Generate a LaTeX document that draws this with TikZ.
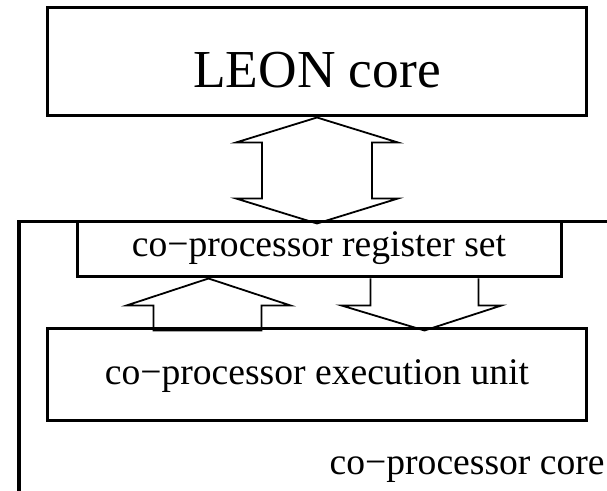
\documentclass[tikz,border=0pt]{standalone}
\usepackage{fontspec}
\setmainfont{Liberation Serif}
\usetikzlibrary{calc}

\begin{document}
\begin{tikzpicture}[
    x=0.5pt, y=-0.5pt,
    box/.style={rectangle, draw, line width=1.5pt, inner sep=0pt, align=center},
    bigtext/.style={font=\fontsize{26.7}{32}\selectfont},
    smalltext/.style={font=\fontsize{18.8}{22}\selectfont},
    blockarrow/.style={draw, line width=0.9pt, line join=miter},
    frame/.style={draw, line width=1.5pt}
]
\useasboundingbox (0,0) rectangle (607,491);

% LEON core
\node[box, bigtext, minimum width=269pt, minimum height=54pt, text height=26pt, text depth=0pt] (leon) at (317,62) {LEON core};

% Co-processor blocks
\node[box, smalltext, minimum width=242pt, minimum height=27.5pt, text height=11pt, text depth=3.5pt] (regset) at (319,249.5) {co−processor register set};
\node[box, smalltext, minimum width=269pt, minimum height=46pt, text height=13pt, text depth=3pt] (unit) at (317,375) {co−processor execution unit};

% Co-processor core frame
\coordinate (coretop) at (607,222);
\coordinate (corebot) at (19,491);
\draw[frame] (coretop) -| (corebot);
\node[smalltext, anchor=base east, inner sep=0pt] (corelabel) at (605,475) {co−processor core};

% LEON <-> register set
\draw[blockarrow] (leon.south) -- ++(-81,25) -- ++(26,0) -- ++(0,56) -- ++(-26,0) -- ++(81,25)
    -- ++(81,-25) -- ++(-26,0) -- ++(0,-56) -- ++(26,0) -- cycle;

% Execution unit -> register set
\draw[blockarrow] ($(regset.south west)+(133,0)$) -- ++(-82,27) -- ++(27,0) -- ++(0,25) -- ++(108,0)
    -- ++(0,-25) -- ++(29,0) -- cycle;

% Register set -> execution unit
\draw[blockarrow] ($(regset.south west)+(295,0)$) -- ++(0,27) -- ++(-29,0) -- ++(83,25) -- ++(77,-25)
    -- ++(-23,0) -- ++(0,-27);

\end{tikzpicture}
\end{document}
